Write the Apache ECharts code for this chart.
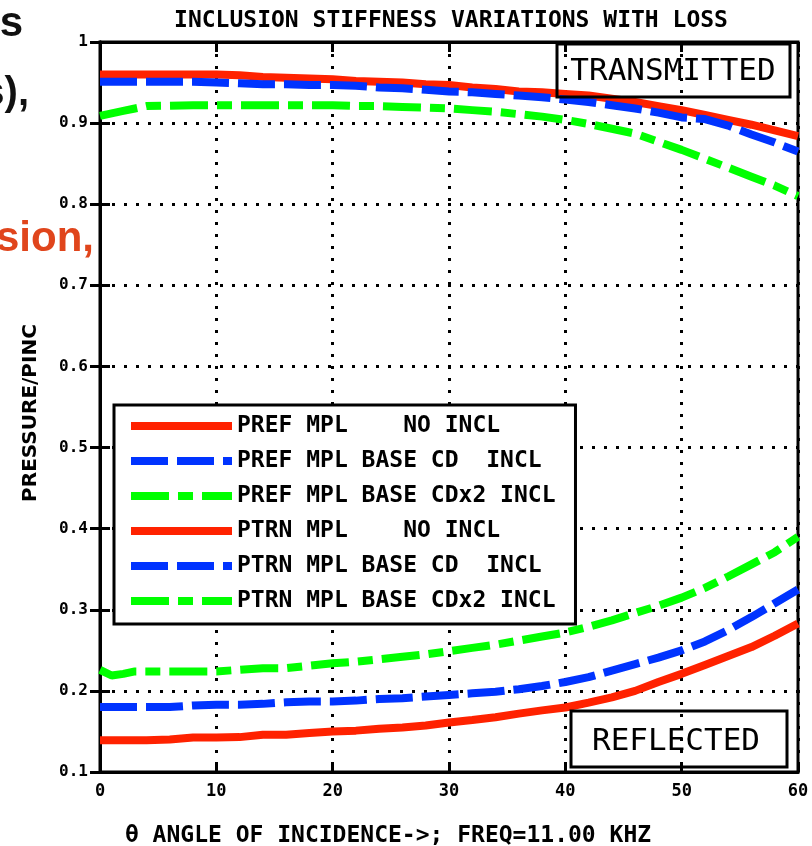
<!DOCTYPE html>
<html><head><meta charset="utf-8">
<script src="https://cdn.jsdelivr.net/npm/echarts@6/dist/echarts.min.js"></script>
<style>html,body{margin:0;padding:0;background:#fff;} #c{width:812px;height:846px;}</style>
</head><body><div id="c"></div>
<script>
// ---- data ----
const angles = [0,1,2,3,4,6,8,10,12,14,16,18,20,22,24,26,28,30,32,34,36,38,40,42,44,46,48,50,52,54,56,58,60];
// reflected (lower group)
const prefNoIncl   = [.139,.139,.139,.139,.139,.140,.1425,.1425,.143,.146,.146,.148,.150,.151,.1534,.155,.1573,.161,.164,.1675,.172,.176,.1795,.1855,.192,.200,.211,.221,.232,.243,.254,.268,.283];
const prefBaseCd   = [.180,.180,.180,.180,.180,.180,.182,.183,.183,.184,.186,.187,.187,.188,.190,.191,.193,.195,.197,.199,.202,.206,.211,.217,.225,.233,.241,.250,.261,.275,.291,.308,.325];
const prefBaseCdx2 = [.226,.219,.221,.224,.224,.224,.224,.224,.226,.228,.228,.231,.234,.236,.239,.242,.245,.249,.253,.257,.262,.267,.272,.279,.287,.296,.305,.315,.327,.341,.356,.371,.390];
// transmitted (upper group)
const ptrnNoIncl   = [.960,.960,.960,.960,.960,.960,.960,.960,.959,.957,.956,.955,.954,.952,.951,.950,.948,.947,.944,.942,.939,.938,.936,.934,.930,.926,.921,.916,.910,.904,.898,.891,.884];
const ptrnBaseCd   = [.951,.951,.951,.951,.951,.951,.951,.950,.949,.948,.948,.947,.947,.946,.944,.943,.941,.939,.938,.936,.934,.932,.929,.926,.922,.918,.913,.907,.905,.897,.886,.876,.865];
const ptrnBaseCdx2 = [.909,.912,.915,.918,.921,.9215,.922,.922,.922,.922,.922,.922,.922,.921,.921,.920,.919,.918,.916,.914,.911,.908,.904,.899,.893,.887,.877,.867,.856,.845,.834,.823,.810];

const seriesNames = [
  'PREF MPL    NO INCL',
  'PREF MPL BASE CD  INCL',
  'PREF MPL BASE CDx2 INCL',
  'PTRN MPL    NO INCL',
  'PTRN MPL BASE CD  INCL',
  'PTRN MPL BASE CDx2 INCL'
];
const xTickLabels = ['0','10','20','30','40','50','60'];
const yTickLabels = ['0.1','0.2','0.3','0.4','0.5','0.6','0.7','0.8','0.9','1'];

const titleText = 'INCLUSION STIFFNESS VARIATIONS WITH LOSS';
const xName = '\u03B8 ANGLE OF INCIDENCE->; FREQ=11.00 KHZ';
const yName = 'PRESSURE/PINC';

// ---- styles ----
const RED = '#ff2200', BLUE = '#0033ff', GREEN = '#00ff00';
const styles = [
  {color: RED, type: 'solid'},
  {color: BLUE, type: [37, 9]},
  {color: GREEN, type: [38, 9, 15, 9]},
  {color: RED, type: 'solid'},
  {color: BLUE, type: [37, 9]},
  {color: GREEN, type: [38, 9, 15, 9]}
];
const valueSets = [prefNoIncl, prefBaseCd, prefBaseCdx2, ptrnNoIncl, ptrnBaseCd, ptrnBaseCdx2];

const series = valueSets.map((vals, i) => ({
  name: seriesNames[i],
  type: 'line',
  data: angles.map((a, j) => [a, vals[j]]),
  symbol: 'none',
  showSymbol: false,
  lineStyle: {color: styles[i].color, width: 8, type: styles[i].type, cap: 'butt'},
  itemStyle: {color: styles[i].color},
  emphasis: {disabled: true},
  animation: false,
  z: 3
}));

const MONO = "'DejaVu Sans Mono', monospace";
const gridDots = {show: true, lineStyle: {color: '#000', width: 3, type: [3, 9]}};

const chart = echarts.init(document.getElementById('c'), null, {renderer: 'canvas', width: 812, height: 846});
chart.setOption({
  animation: false,
  backgroundColor: '#fff',
  grid: {left: 100, right: 14, top: 42, bottom: 74, show: true, borderColor: '#000', borderWidth: 3, containLabel: false},
  xAxis: [
    {type: 'value', min: 0, max: 60, interval: 10, position: 'bottom',
     axisLine: {show: true, lineStyle: {color: '#000', width: 3}},
     axisTick: {show: true, inside: true, length: 10, lineStyle: {color: '#000', width: 3}},
     axisLabel: {show: true, margin: 11, color: '#000', fontFamily: MONO, fontWeight: 'bold', fontSize: 17,
       formatter: v => xTickLabels[Math.round(v / 10)]},
     splitLine: gridDots},
    {type: 'value', min: 0, max: 60, interval: 10, position: 'top',
     axisLine: {show: true, lineStyle: {color: '#000', width: 3}},
     axisTick: {show: true, inside: true, length: 10, lineStyle: {color: '#000', width: 3}},
     axisLabel: {show: false}, splitLine: {show: false}}
  ],
  yAxis: [
    {type: 'value', min: 0.1, max: 1, interval: 0.1, position: 'left',
     axisLine: {show: true, lineStyle: {color: '#000', width: 3}},
     axisTick: {show: true, inside: true, length: 10, lineStyle: {color: '#000', width: 3}},
     axisLabel: {show: true, margin: 12, color: '#000', fontFamily: MONO, fontWeight: 'bold', fontSize: 16,
       formatter: v => yTickLabels[Math.round(v * 10) - 1]},
     splitLine: gridDots},
    {type: 'value', min: 0.1, max: 1, interval: 0.1, position: 'right',
     axisLine: {show: true, lineStyle: {color: '#000', width: 3}},
     axisTick: {show: true, inside: true, length: 10, lineStyle: {color: '#000', width: 3}},
     axisLabel: {show: false}, splitLine: {show: false}}
  ],
  legend: {
    orient: 'vertical', left: 114, top: 405,
    backgroundColor: '#fff', borderColor: '#000', borderWidth: 3,
    padding: [6, 20, 8, 13],
    itemWidth: 101, itemHeight: 8, itemGap: 5,
    selectedMode: false,
    lineStyle: {width: 8, cap: 'butt'},
    itemStyle: {opacity: 0},
    textStyle: {color: '#000', fontFamily: MONO, fontWeight: 'bold', fontSize: 23, lineHeight: 20, padding: [10, 0, 0, 0]},
    data: seriesNames
  },
  graphic: [
    {type: 'text', x: 451, y: 21, style: {text: titleText, x: 0, y: 0, align: 'center', verticalAlign: 'middle',
      font: "bold 23px 'DejaVu Sans Mono'", fill: '#000'}},
    {type: 'text', x: 388, y: 836, style: {text: xName, align: 'center', verticalAlign: 'middle',
      font: "bold 23px 'DejaVu Sans Mono'", fill: '#000'}},
    {type: 'text', x: 31, y: 413, rotation: Math.PI / 2, style: {text: yName, align: 'center', verticalAlign: 'middle',
      font: "bold 20px 'DejaVu Sans'", fill: '#000'}},
    {type: 'rect', shape: {x: 557, y: 44, width: 233, height: 53}, style: {fill: 'none', stroke: '#000', lineWidth: 3}, z: 10},
    {type: 'text', x: 673, y: 72, style: {text: 'TRANSMITTED', align: 'center', verticalAlign: 'middle',
      font: "31px 'DejaVu Sans Mono'", fill: '#000'}, z: 10},
    {type: 'rect', shape: {x: 571, y: 711, width: 216, height: 56}, style: {fill: 'none', stroke: '#000', lineWidth: 3}, z: 10},
    {type: 'text', x: 676, y: 742, style: {text: 'REFLECTED', align: 'center', verticalAlign: 'middle',
      font: "31px 'DejaVu Sans Mono'", fill: '#000'}, z: 10},
    // fragments of surrounding slide text at left edge
    {type: 'text', x: 23, y: 24, style: {text: 's', align: 'right', verticalAlign: 'middle',
      font: "bold 42px 'Liberation Sans'", fill: '#111'}},
    {type: 'text', x: 29, y: 94, style: {text: 's),', align: 'right', verticalAlign: 'middle',
      font: "bold 40px 'Liberation Sans'", fill: '#111'}},
    {type: 'text', x: 94, y: 239, style: {text: 'sion,', align: 'right', verticalAlign: 'middle',
      font: "bold 42px 'Liberation Sans'", fill: '#e0451c'}}
  ],
  series: series
});
</script>
</body></html>
